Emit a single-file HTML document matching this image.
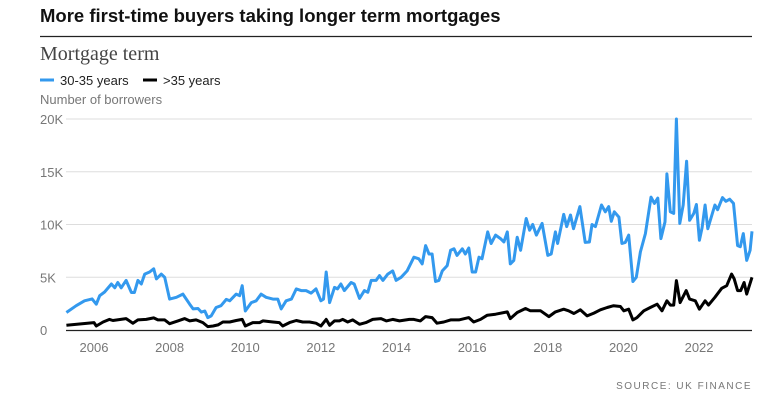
<!DOCTYPE html>
<html><head><meta charset="utf-8"><style>
body{margin:0;width:784px;height:412px;background:#fff;overflow:hidden;font-family:"Liberation Sans",sans-serif}
svg{position:absolute;left:0;top:0}
</style></head><body>
<svg id="c" width="784" height="412">
<text x="40" y="22" font-size="18.5" font-weight="bold" fill="#111">More first-time buyers taking longer term mortgages</text>
<line x1="40" y1="36.5" x2="752" y2="36.5" stroke="#222" stroke-width="1.2"/>
<text x="40" y="60" font-family="Liberation Serif,serif" font-size="20" fill="#444">Mortgage term</text>
<g>
<line x1="40" y1="80" x2="54" y2="80" stroke="#3399ee" stroke-width="3"/>
<text x="60" y="85" font-family="Liberation Sans Narrow,Liberation Sans,sans-serif" font-size="13" fill="#222">30-35 years</text>
<line x1="143" y1="80" x2="157" y2="80" stroke="#000" stroke-width="3"/>
<text x="163" y="85" font-family="Liberation Sans Narrow,Liberation Sans,sans-serif" font-size="13" fill="#222">&gt;35 years</text>
</g>
<text x="40" y="104" font-family="Liberation Sans Narrow,Liberation Sans,sans-serif" font-size="13" fill="#777">Number of borrowers</text>
<g id="grid"></g><g id="series"></g>
<text x="752" y="389" text-anchor="end" font-size="10" letter-spacing="1.5" fill="#777">SOURCE: UK FINANCE</text>
</svg>
<script>
const yTicks=[0,5,10,15,20];
const yTickLabels=["0","5K","10K","15K","20K"];
const xTicks=[2006,2008,2010,2012,2014,2016,2018,2020,2022];
const blueDates=[2005.27,2005.53,2005.75,2005.95,2006.06,2006.15,2006.28,2006.46,2006.55,2006.63,2006.72,2006.85,2006.99,2007.07,2007.16,2007.25,2007.34,2007.47,2007.58,2007.65,2007.78,2007.87,2008.0,2008.18,2008.35,2008.53,2008.62,2008.75,2008.84,2008.93,2009.01,2009.1,2009.23,2009.36,2009.5,2009.59,2009.76,2009.85,2009.92,2010.0,2010.16,2010.29,2010.42,2010.55,2010.73,2010.86,2010.95,2011.08,2011.22,2011.35,2011.48,2011.61,2011.74,2011.87,2012.0,2012.07,2012.14,2012.23,2012.36,2012.44,2012.53,2012.62,2012.8,2012.88,2013.02,2013.15,2013.24,2013.33,2013.46,2013.55,2013.64,2013.77,2013.9,2013.99,2014.12,2014.28,2014.46,2014.59,2014.68,2014.77,2014.86,2014.94,2015.03,2015.12,2015.21,2015.34,2015.43,2015.52,2015.6,2015.74,2015.82,2015.91,2016.0,2016.09,2016.18,2016.26,2016.41,2016.5,2016.62,2016.75,2016.84,2016.93,2017.01,2017.1,2017.19,2017.28,2017.43,2017.52,2017.6,2017.7,2017.85,2018.0,2018.09,2018.2,2018.26,2018.42,2018.5,2018.6,2018.68,2018.85,2018.99,2019.1,2019.17,2019.26,2019.42,2019.52,2019.61,2019.68,2019.76,2019.88,2019.96,2020.05,2020.14,2020.25,2020.34,2020.45,2020.58,2020.73,2020.82,2020.91,2020.99,2021.1,2021.15,2021.24,2021.33,2021.4,2021.49,2021.58,2021.67,2021.75,2021.86,2021.93,2022.01,2022.08,2022.16,2022.23,2022.34,2022.42,2022.49,2022.62,2022.71,2022.81,2022.91,2023.02,2023.09,2023.17,2023.26,2023.35,2023.4];
const blueValues=[1.66,2.3,2.77,2.95,2.45,3.25,3.6,4.36,4.0,4.5,4.0,4.7,3.55,3.55,4.7,4.36,5.3,5.5,5.8,4.84,5.3,5.0,2.93,3.1,3.4,2.45,2.0,2.04,1.7,1.8,1.18,1.34,2.13,2.3,2.9,2.77,3.4,3.25,4.2,1.8,2.6,2.77,3.4,3.1,2.93,2.93,2.0,2.77,2.93,3.9,3.73,3.73,3.5,3.9,2.77,2.93,5.5,2.6,4.04,3.9,4.36,3.73,4.5,4.36,3.0,3.73,3.57,4.7,4.7,5.16,4.7,5.3,5.6,4.7,5.0,5.6,6.9,6.75,6.27,8.0,7.2,7.2,4.6,4.7,5.6,6.1,7.55,7.7,7.07,7.7,7.2,7.77,5.5,5.5,6.9,6.75,9.3,8.2,9.0,8.66,8.34,9.3,6.27,6.6,8.8,7.55,10.57,9.46,10.0,9.0,10.1,7.07,7.2,9.3,8.2,10.96,9.8,10.9,9.6,11.7,8.3,8.34,10.0,9.8,11.85,11.2,11.7,10.3,11.2,10.7,8.2,8.3,9.0,4.6,5.0,7.4,9.14,12.6,12.0,12.5,8.66,10.25,14.8,11.2,11.05,20.0,10.1,11.85,16.0,10.4,11.05,11.9,8.5,9.7,11.85,9.6,10.9,11.85,11.4,12.55,12.2,12.4,12.0,8.0,7.9,9.14,6.6,7.55,9.36];
const blackDates=[2005.27,2006.0,2006.06,2006.24,2006.41,2006.5,2006.85,2007.03,2007.16,2007.38,2007.58,2007.69,2007.87,2008.0,2008.22,2008.4,2008.53,2008.7,2008.88,2009.01,2009.15,2009.28,2009.41,2009.59,2009.76,2009.92,2010.0,2010.2,2010.38,2010.47,2010.73,2010.9,2010.99,2011.17,2011.35,2011.52,2011.7,2011.87,2012.0,2012.14,2012.23,2012.36,2012.49,2012.58,2012.71,2012.84,2013.02,2013.19,2013.37,2013.59,2013.73,2013.9,2014.08,2014.34,2014.46,2014.63,2014.77,2014.94,2015.07,2015.25,2015.43,2015.65,2015.91,2016.04,2016.22,2016.4,2016.62,2016.93,2017.01,2017.19,2017.41,2017.54,2017.81,2018.03,2018.2,2018.42,2018.55,2018.69,2018.86,2019.04,2019.22,2019.39,2019.57,2019.74,2019.92,2020.01,2020.14,2020.25,2020.36,2020.54,2020.71,2020.89,2021.02,2021.15,2021.24,2021.33,2021.4,2021.5,2021.66,2021.75,2021.9,2022.01,2022.16,2022.25,2022.42,2022.6,2022.73,2022.86,2022.93,2023.02,2023.1,2023.19,2023.26,2023.4];
const blackValues=[0.45,0.7,0.38,0.76,1.0,0.9,1.08,0.64,0.96,1.0,1.15,0.96,0.96,0.6,0.86,1.08,0.86,0.96,0.7,0.32,0.38,0.48,0.76,0.76,0.9,1.0,0.38,0.7,0.7,0.86,0.76,0.7,0.38,0.7,0.9,0.76,0.76,0.64,0.38,1.0,0.45,0.86,0.86,1.0,0.76,0.96,0.54,0.7,1.0,1.08,0.86,1.0,0.86,1.0,1.0,0.86,1.27,1.18,0.64,0.76,0.96,0.96,1.18,0.76,1.0,1.4,1.5,1.72,1.08,1.66,2.04,1.82,1.82,1.27,1.72,1.97,1.82,1.56,1.91,1.34,1.6,1.91,2.13,2.3,2.23,1.82,1.97,0.96,1.18,1.82,2.13,2.45,1.82,2.77,2.36,2.36,4.68,2.6,3.73,2.93,2.77,1.97,2.77,2.36,3.1,3.95,4.2,5.3,4.84,3.73,3.73,4.5,3.4,5.0];
const X0=66,X1=752,Y0=330,Y1=119,D0=2005.26,D1=2023.4,V1=20;
const xs=d=>X0+(d-D0)/(D1-D0)*(X1-X0);
const ys=v=>Y0-v/V1*(Y0-Y1);
const NS="http://www.w3.org/2000/svg";
const grid=document.getElementById('grid');
yTicks.forEach((t,i)=>{
 if(t>0){const l=document.createElementNS(NS,'line');
 l.setAttribute('x1',X0);l.setAttribute('x2',X1);l.setAttribute('y1',ys(t));l.setAttribute('y2',ys(t));
 l.setAttribute('stroke','#ddd');l.setAttribute('stroke-width','1');
 
 
 grid.appendChild(l);}
 const tx=document.createElementNS(NS,'text');
 tx.setAttribute('x',40);tx.setAttribute('y',ys(t)+5);tx.setAttribute('font-size','13');tx.setAttribute('fill','#777');
 tx.setAttribute('font-family','Liberation Sans Narrow,Liberation Sans,sans-serif');
 tx.textContent=yTickLabels[i];
 
 
 grid.appendChild(tx);
});
const ax=document.createElementNS(NS,'line');
ax.setAttribute('x1',X0);ax.setAttribute('x2',X1);ax.setAttribute('y1',Y0+0.5);ax.setAttribute('y2',Y0+0.5);ax.setAttribute('stroke','#222');ax.setAttribute('stroke-width','1.2');


grid.appendChild(ax);
xTicks.forEach(t=>{
 const tx=document.createElementNS(NS,'text');
 tx.setAttribute('x',xs(t));tx.setAttribute('y',352);tx.setAttribute('text-anchor','middle');tx.setAttribute('font-size','13');tx.setAttribute('fill','#777');
 tx.setAttribute('font-family','Liberation Sans Narrow,Liberation Sans,sans-serif');
 tx.textContent=t;
 
 
 grid.appendChild(tx);
});
const ser=document.getElementById('series');
function line(d,v,col,name){
 const p=document.createElementNS(NS,'path');
 p.setAttribute('d',d.map((x,i)=>(i?'L':'M')+xs(x).toFixed(1)+','+ys(v[i]).toFixed(1)).join(''));
 p.setAttribute('fill','none');p.setAttribute('stroke',col);p.setAttribute('stroke-width','3');p.setAttribute('stroke-linejoin','round');
 
 
 ser.appendChild(p);
}
line(blueDates,blueValues,'#3399ee','line-30-35-years');
line(blackDates,blackValues,'#000','line-over-35-years');
</script>
</body></html>
